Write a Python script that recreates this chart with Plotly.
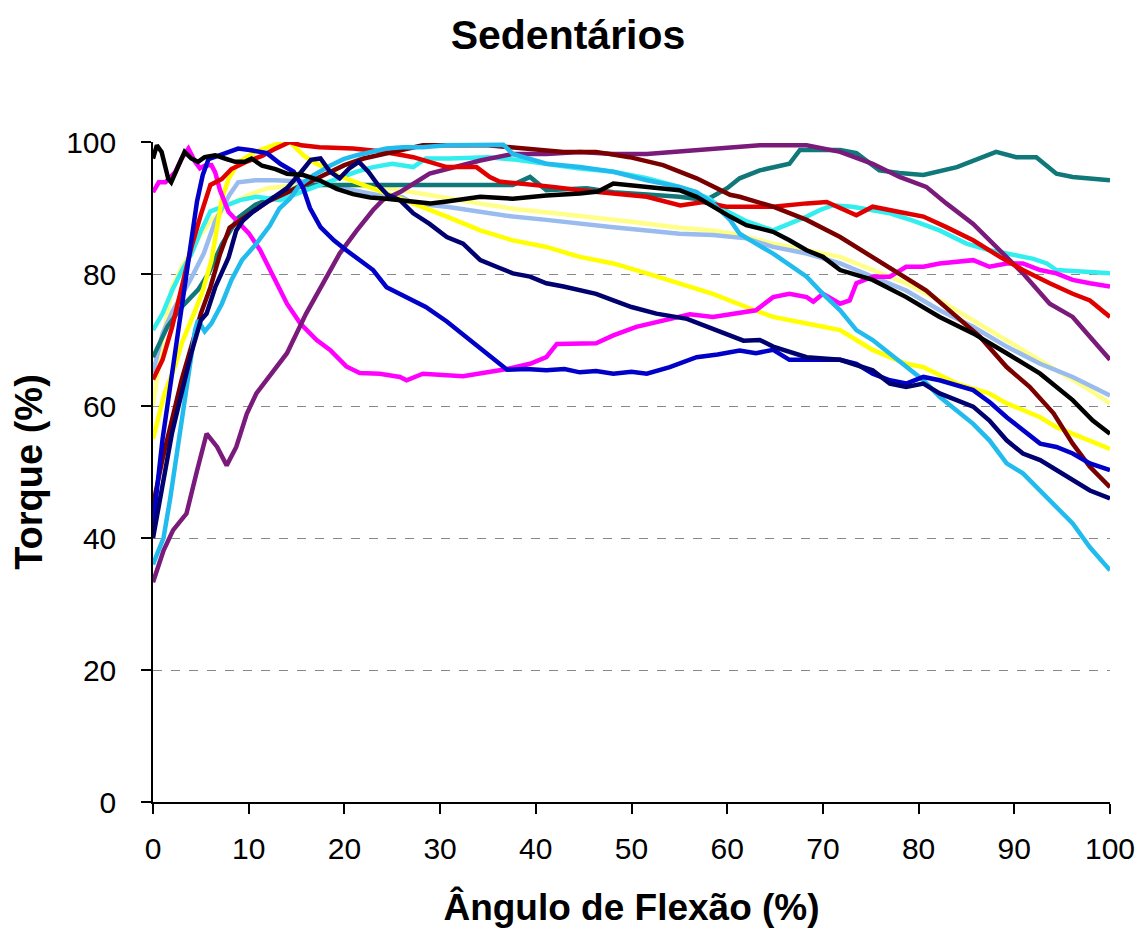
import plotly.graph_objects as go

# ---- data: (flexion angle %, torque %) ----
black = [(0,97.5),(0.4,99.5),(0.9,98.5),(1.6,94.4),(1.9,93.9),(2.6,96.4),(3.3,98.5),(4,97.5),(4.7,97),(5.4,97.7),
         (6.5,98),(7.5,97.5),(8.6,97),(9.6,97),(10.3,97.5),(11.4,96.4),(12.8,95.9),(14,95.2),(15.7,95),(17.4,94.2),
         (19.2,92.9),(20.9,92.1),(22.7,91.6),(24.4,91.4),(26.8,91.1),(29,90.7),(30.7,91),(32.4,91.4),(34.2,91.7),
         (37.6,91.4),(41.1,91.9),(44.6,92.2),(46.5,92.5),(48.1,93.7),(51.6,93.2),(55,92.7),(56.8,91.7),(58.5,90.2),
         (60.3,88.7),(62,87.4),(64.8,86.4),(66.5,85.1),(68.3,83.6),(70,82.6),(71.8,80.6),(75.2,79.1),(78.7,76.5),
         (82.2,73.5),(85.7,71),(89.2,68),(92.7,64.9),(96.1,60.9),(98.2,57.8),(100,55.8)]
teal = [(0,67.4),(1.5,72),(3,75),(4.7,77.6),(5.8,80.1),(7.2,84.5),(8.9,88.5),(10.7,90.5),(12.4,91.5),(14,92.4),
        (15.4,93.4),(17,93.5),(20,93.5),(37.6,93.5),(39.4,94.7),(41.1,92.7),(45.3,93),(48.1,92.4),(52,92),(55,91.7),
        (57.8,91.2),(60,93),(61.3,94.5),(63.4,95.7),(66.5,96.7),(67.6,98.8),(71.8,98.8),(73.5,98.3),(75.9,95.7),
        (78,95.3),(80.5,95),(84,96.2),(88.1,98.5),(90.2,97.7),(92.3,97.7),(94.4,95.2),(96.1,94.7),(100,94.2)]
purple = [(0,33.3),(1.1,38.1),(2.1,41.2),(3.5,43.7),(4.6,50.2),(5.6,55.8),(6.7,53.8),(7.7,51),(8.7,53.8),(9.8,58.8),
          (10.8,61.9),(12.6,65.4),(14,68),(16,74),(18.1,79.6),(19.5,83.1),(21.3,86.6),(23,89.7),(24,91.2),(25.8,92.4),
          (28.9,95.2),(34.2,97.2),(37.6,98.2),(41.1,98.2),(44.6,98.5),(48.1,98.2),(51.6,98.2),(56.8,98.8),(62,99.3),
          (63.4,99.5),(68.3,99.5),(71.8,98.5),(75.2,96.7),(78,94.7),(80.8,93.2),(82.9,90.7),(85.7,87.6),(88.1,84.1),
          (90.9,80.1),(93.7,75.5),(96.1,73.5),(97.9,70.5),(100,67)]
magenta = [(0,92.4),(0.6,93.9),(1.3,93.9),(2.3,95.4),(3,97.5),(3.7,99),(4.4,97),(4.9,96),(5.4,96.4),(6.1,96.5),
           (6.5,95.4),(7,92.7),(7.9,89.4),(8.9,87.9),(10,86.2),(11.2,83.6),(12.6,79.6),(14,75.5),(15.4,72.5),(17.1,70),
           (18.5,68.5),(20.2,66),(21.6,65),(23.7,64.9),(25.8,64.4),(26.5,63.9),(28.2,64.9),(32.4,64.5),(37,65.6),
           (39.4,66.4),(41.1,67.4),(42.2,69.4),(46.3,69.5),(48.1,70.7),(50.5,72),(53.7,73),(56.1,73.9),(58.5,73.5),
           (62,74.2),(63,74.5),(64.8,76.5),(66.5,77),(68.3,76.5),(69,75.8),(70,77),(71.8,75.5),(72.8,76),(73.5,78.6),
           (75.2,79.6),(77,79.6),(78.7,81.1),(80.5,81.1),(82.2,81.6),(85.7,82.1),(87.4,81.1),(89.2,81.6),(90.9,81.6),
           (92.7,80.6),(94.4,80.1),(96.1,79.1),(97.9,78.6),(100,78.1)]
blue = [(0,42),(1,55),(2,65),(3,75),(4,85),(4.6,91),(5.2,95),(5.8,97.4),(7,98),(7.9,98.5),(8.9,99),(10.1,98.8),
        (11.9,98.3),(13.3,96.7),(14.7,95.5),(15.7,93),(16.4,90),(17.5,87.1),(18.9,85.1),(20.2,83.6),(21.6,82.1),
        (23,80.6),(24.4,78),(26.1,76.7),(27.2,76),(28.5,75),(30.7,72.8),(32.4,70.8),(34.2,68.9),(37,65.5),(39,65.6),
        (41.1,65.4),(43,65.6),(44.6,65.1),(46.3,65.3),(48.1,64.9),(50,65.2),(51.6,64.9),(54,65.9),(56.8,67.4),
        (59,67.8),(61.3,68.4),(63,68),(64.8,68.5),(66.5,67),(68.3,67),(71.8,67),(73.5,66.4),(75.2,64.9),(77,63.9),
        (78.7,63.4),(80.5,64.4),(82.2,63.9),(85.7,62.4),(87.5,60.5),(89.2,58.3),(90.9,56.3),(92.7,54.3),(94.4,53.8),
        (96.1,52.8),(97.9,51.3),(100,50.3)]
navy = [(0,40),(1,48),(2,56),(3,62),(4,68),(5,73),(5.6,74),(6.5,78),(7.9,82.5),(8.7,86.6),(9.4,88.1),(10.5,89.5),
        (12,91),(14,93),(15.5,95.5),(16.5,97.3),(17.5,97.5),(18.5,95.5),(19.5,94.5),(20.5,96),(21.5,97),(22.5,95.5),
        (23.5,93.5),(24.5,92),(25.8,91.2),(27.2,89.2),(28.9,87.6),(30.7,85.6),(32.4,84.6),(34.2,82.1),(35.9,81.1),
        (37.6,80.1),(39.4,79.6),(41.1,78.6),(42.9,78.1),(44.6,77.5),(46.3,77),(48.1,76),(50,75),(52.6,74),
        (55.8,73.2),(58.5,71.7),(61.7,69.9),(63.4,70),(64.8,69),(68.3,67.4),(71.8,67),(75.2,65.4),(77,63.4),
        (78.7,62.9),(80.5,63.4),(82.2,61.9),(85.7,59.9),(87.4,57.8),(89.2,54.8),(90.9,52.8),(92.7,51.8),(94.4,50.3),
        (96.1,48.8),(97.9,47.2),(100,46)]
yellow = [(0,55),(1.2,61.9),(2.3,66),(3,69.5),(4,73),(5.1,77),(6.1,82),(7.2,91.4),(7.9,94.4),(8.9,96.9),
          (10.7,98.5),(12.2,99.3),(13.5,100),(14.3,100),(15.7,98),(16.7,97),(18.1,96),(19.2,95),(20.2,94.4),
          (22.3,93.3),(23.7,92.6),(25.5,91.7),(27.2,90.7),(30.7,88.7),(34.2,86.6),(37.6,85.1),(41.1,84.1),(44.6,82.6),
          (48.1,81.6),(51.6,80.1),(55,78.6),(58.5,77),(62,75),(63.4,74.3),(64.8,73.5),(68.3,72.5),(71.8,71.5),
          (73.5,70),(75.2,68.5),(77,67.4),(78.7,66.4),(80.5,65.9),(84,63.4),(87.4,61.9),(89.2,60.4),(90.9,59.4),
          (92.7,58.3),(94.4,56.8),(96.1,55.8),(97.9,54.8),(100,53.5)]
pale_yellow = [(0,60),(1,70),(2,78),(3,81),(4,83.5),(5,86),(6,88),(8,90.5),(10,92),(12,93),(15,93.5),(20,93.5),
               (23.7,93.2),(27,92.5),(30,91.7),(34,90.7),(38,89.8),(42,89.2),(46,88.6),(50,87.9),(55,87),(58.5,86.6),
               (61.3,85.9),(64.8,84.6),(68.3,83.6),(71.8,82.6),(75.2,80.6),(78.7,78.6),(82.2,76),(85.7,73),(89.2,70),
               (92.7,67),(96.1,63.9),(97.9,62.4),(100,60.4)]
light_blue = [(0,65),(1,71),(2.1,74.5),(3.9,79.1),(5.3,83.1),(6.5,88),(8,92),(8.9,93.9),(10.7,94.2),(12.8,94.2),
              (15.7,94),(17.4,93.7),(19.2,93.2),(20.9,92.7),(23.7,91.9),(26.1,91.6),(27.2,90.7),(30.7,90.2),
              (34.2,89.4),(37.6,88.7),(41.1,88.2),(44.6,87.6),(48.1,87.1),(51.6,86.6),(55,86.1),(58.5,85.9),(62,85.4),
              (64.8,84.1),(68.3,83.1),(71.8,81.6),(75.2,79.6),(78.7,77.5),(82.2,74.5),(85.7,72),(89.2,69),(92.7,66.4),
              (96.1,64.4),(98.2,62.9),(100,61.6)]
red = [(0,64),(1,67),(2,72),(3,78),(4,84),(5,89),(6,93.5),(7.2,94.4),(8.2,95.9),(9.6,96.9),(11.4,97.9),(12.8,99),
       (14.3,100),(15.5,99.5),(17.4,99.2),(20.9,99),(23.7,98.6),(26.1,98),(27.2,97.7),(30.7,96.2),(33.8,96.2),
       (35.2,94.7),(36.2,94),(38.3,93.7),(40.4,93.5),(41.8,93.2),(44.6,92.7),(48.1,92.2),(51.6,91.7),(55.1,90.4),
       (57.5,90.9),(59.9,90.2),(61.3,90.2),(64.8,90.2),(68.3,90.7),(70.4,90.9),(73.5,88.9),(75.2,90.2),(78,89.4),
       (80.5,88.7),(82.9,87.1),(85.7,85.1),(88.5,82.6),(90.9,80.6),(93.7,78.6),(96.1,77),(97.9,76),(100,73.5)]
maroon = [(0,45),(1,52),(2,58),(3,64),(4,69),(5,74),(6,78),(7,83),(8,87),(10,89),(12,91),(15,93),(18,95),(20,96.5),
          (22,97.5),(25,98.5),(28.2,99.5),(35,99.5),(39.4,99),(42.9,98.5),(46.3,98.5),(49.8,97.7),(53.3,96.5),
          (56.8,94.5),(60.3,92),(61.3,91.7),(64.8,90.2),(68.3,88.2),(71.8,85.6),(75.2,82.6),(78,80.1),(80.8,77.5),
          (84,73.5),(86.4,70.5),(89.2,65.9),(91.6,62.9),(94.1,58.9),(96.1,54.3),(97.9,50.8),(100,47.7)]
aqua = [(0,71.5),(1,74),(2,77.5),(3,80.5),(4,83),(5,86.5),(6,89.5),(7.4,90.2),(9.1,91.2),(10.8,91.7),(13.3,91.2),
        (16,92.7),(18.8,94.2),(21.3,95.5),(23,96.2),(25,96.7),(27.2,96.2),(28.5,97.5),(31,97.5),(35,97.7),(38,97.3),
        (41.1,96.7),(44.6,96),(48.1,95.5),(51.6,94.5),(55,93.2),(58,91.5),(60,89.5),(62,88),(64.8,86.6),(66.5,87.6),
        (68.3,88.7),(69.7,89.7),(71,90.4),(73.1,90.2),(75.2,89.7),(77,89.2),(79.4,88.1),(82.2,86.6),(85,84.6),
        (87.4,83.6),(89.2,83.1),(92,82.3),(93.4,81.6),(94.4,80.6),(97.9,80.3),(100,80.1)]
sky_blue = [(0,36),(1.1,40),(1.8,46),(2.5,53),(3.2,59),(3.7,65),(4.4,71.5),(4.7,73),(5.4,71.3),(6.1,72.5),(7.2,75.5),
            (8.2,79.1),(9.3,82.1),(10.8,84.6),(12.2,87.3),(13.2,89.9),(14.3,91.4),(15.3,93.4),(16.7,94.9),(18.5,96.4),
            (19.9,97.4),(21.3,98),(22.7,98.5),(24.4,99),(26.1,99.2),(28.2,99.2),(30.7,99.5),(34.2,99.6),(36.6,99.6),
            (37.6,98.2),(41.1,96.7),(44.6,96.2),(48.1,95.5),(51.6,94.2),(55,93.2),(56.8,92.4),(58.5,90.7),(60.3,88.2),
            (61.3,86.1),(63,84.6),(64.8,83.1),(68.3,79.6),(70,77),(71.8,74.5),(73.5,71.5),(75.2,70),(77,68),(78.7,66),
            (80.5,63.9),(82.2,61.4),(84,59.4),(85.7,57.3),(87.4,54.8),(89.2,51.3),(90.9,49.8),(92.7,47.2),(94.4,44.7),
            (96.1,42.2),(97.9,38.6),(100,35.1)]

x_ticks = [0, 10, 20, 30, 40, 50, 60, 70, 80, 90, 100]
y_ticks = [0, 20, 40, 60, 80, 100]

series = [
    ("pale_yellow", pale_yellow, "#FFFF88"),
    ("light_blue", light_blue, "#99BBEE"),
    ("teal", teal, "#107878"),
    ("aqua", aqua, "#33EEEE"),
    ("yellow", yellow, "#FFFF00"),
    ("magenta", magenta, "#FF00FF"),
    ("purple", purple, "#7A1A7A"),
    ("red", red, "#E00000"),
    ("maroon", maroon, "#7A0000"),
    ("sky_blue", sky_blue, "#22BBEE"),
    ("blue", blue, "#0000C8"),
    ("navy", navy, "#000070"),
    ("black", black, "#000000"),
]

fig = go.Figure()
for name, pts, col in series:
    fig.add_trace(go.Scatter(
        x=[p[0] for p in pts], y=[p[1] for p in pts], mode="lines", name=name,
        line=dict(color=col, width=4.5), showlegend=False))

FONT = "Liberation Sans, Arial, sans-serif"
fig.update_layout(
    width=1146, height=938,
    paper_bgcolor="white", plot_bgcolor="white",
    margin=dict(l=145, r=44, t=134, b=144, autoexpand=False),
    font=dict(family=FONT, color="black", size=30),
    title=dict(text="<b>Sedentários</b>", x=560 / 1146, xref="container", xanchor="center",
               y=1 - 27 / 938, yref="container", yanchor="middle",
               font=dict(family=FONT, size=41, color="black")),
    showlegend=False,
)
fig.update_xaxes(
    range=[0, 100], tickvals=x_ticks, ticks="outside", ticklen=10, tickwidth=1.5, tickcolor="black",
    showline=True, linecolor="black", linewidth=1.5, showgrid=False, zeroline=False, automargin=False,
    tickfont=dict(size=30, family=FONT), ticklabelstandoff=9,
    title=dict(text="<b>Ângulo de Flexão (%)</b>", font=dict(size=37, family=FONT), standoff=30),
)
fig.update_yaxes(
    range=[0, 100], tickvals=y_ticks, ticks="outside", ticklen=10, tickwidth=1.5, tickcolor="black",
    showline=True, linecolor="black", linewidth=1.5, showgrid=True, gridcolor="#888888", gridwidth=1,
    griddash="dash", zeroline=False, automargin=False,
    tickfont=dict(size=30, family=FONT), ticklabelstandoff=19,
    title=dict(text="<b>Torque (%)</b>", font=dict(size=38, family=FONT), standoff=16),
)
fig.write_html("out.html")
